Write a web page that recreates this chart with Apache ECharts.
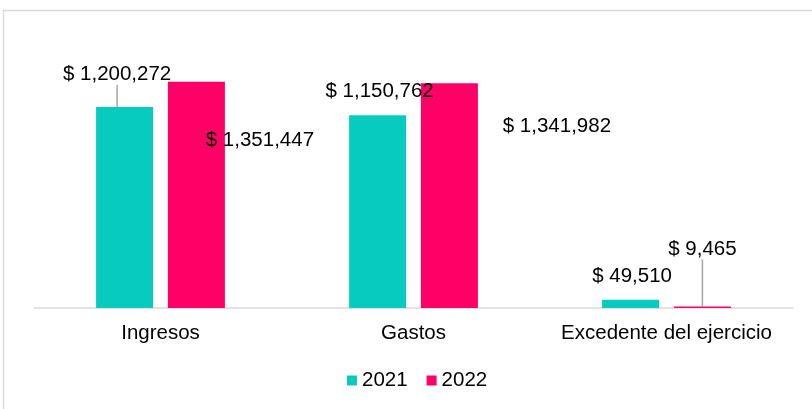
<!DOCTYPE html>
<html>
<head>
<meta charset="utf-8">
<script src="https://cdn.jsdelivr.net/npm/echarts@6/dist/echarts.min.js"></script>
<style>html,body{margin:0;padding:0;background:#fff}#c{width:812px;height:409px}</style>
</head>
<body>
<div id="c"></div>
<script>
const categories = ['Ingresos', 'Gastos', 'Excedente del ejercicio'];
const values2021 = [1200272, 1150762, 49510];
const values2022 = [1351447, 1341982, 9465];
const seriesNames = ['2021', '2022'];

// label offsets (style) per series / category
const labelOffsets2021 = [[-7.5, -17], [2, -8], [1.5, -8]];
const labelOffsets2022 = [[63.5, 74], [107.5, 59], [0, -42]];
const leader2021 = [true, false, false];
const leader2022 = [false, false, true];

const FONT = 'Liberation Sans, Arial, sans-serif';
const FS = 20.5;
const fmt = p => '$ ' + Number(p.value).toLocaleString('en-US');

function makeData(vals, leaders) {
  return vals.map((v, i) => ({
    value: v,
    labelLine: { show: leaders[i], lineStyle: { color: '#a6a6a6', width: 1.5 } }
  }));
}

const chart = echarts.init(document.getElementById('c'), null, { renderer: 'canvas' });
chart.setOption({
  animation: false,
  backgroundColor: '#fff',
  graphic: [{
    type: 'rect',
    shape: { x: 3.5, y: 10.5, width: 1000, height: 600 },
    style: { fill: 'none', stroke: '#d9d9d9', lineWidth: 1.5 },
    silent: true
  }],
  grid: { left: 34, right: 19, top: 40, bottom: 101, containLabel: false },
  legend: {
    data: seriesNames,
    left: 347,
    top: 370,
    padding: 0,
    icon: 'rect',
    itemWidth: 10,
    itemHeight: 10,
    itemGap: 19,
    textStyle: { fontFamily: FONT, fontSize: FS, color: '#000' }
  },
  xAxis: {
    type: 'category',
    data: categories,
    axisLine: { lineStyle: { color: '#d9d9d9', width: 1.5 } },
    axisTick: { show: false },
    axisLabel: { interval: 0, fontFamily: FONT, fontSize: FS, color: '#000', margin: 15 }
  },
  yAxis: { type: 'value', min: 0, max: 1600000, show: false, splitLine: { show: false } },
  series: [
    {
      name: seriesNames[0], type: 'bar', barWidth: 57, barGap: '26%',
      itemStyle: { color: '#08cbc0' },
      data: makeData(values2021, leader2021),
      label: { show: true, position: 'top', formatter: fmt, fontFamily: FONT, fontSize: FS, color: '#000' },
      labelLine: { show: false },
      labelLayout: p => ({ dx: labelOffsets2021[p.dataIndex][0], dy: labelOffsets2021[p.dataIndex][1] })
    },
    {
      name: seriesNames[1], type: 'bar', barWidth: 57,
      itemStyle: { color: '#ff0066' },
      data: makeData(values2022, leader2022),
      label: { show: true, position: 'top', formatter: fmt, fontFamily: FONT, fontSize: FS, color: '#000' },
      labelLine: { show: false },
      labelLayout: p => ({ dx: labelOffsets2022[p.dataIndex][0], dy: labelOffsets2022[p.dataIndex][1] })
    }
  ]
});
</script>
</body>
</html>
